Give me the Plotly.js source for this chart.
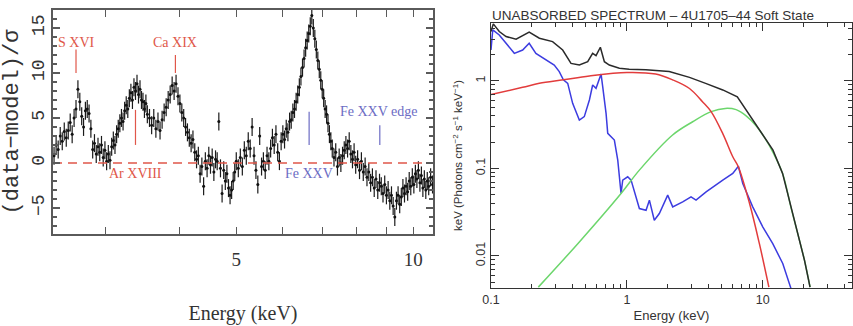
<!DOCTYPE html>
<html><head><meta charset="utf-8">
<script src="https://cdn.plot.ly/plotly-3.0.1.min.js"></script>
<style>html,body{margin:0;padding:0;background:#fff;} #chart{width:853px;height:326px;}</style>
</head><body><div id="chart"></div>
<script>
// ---------- LEFT PANEL: residuals (data-model)/sigma ----------
const resEnergy = [
 2.45,2.47,2.49,2.51,2.53,2.55,2.57,2.59,2.61,2.63,2.65,2.67,2.69,2.71,2.73,2.75,2.77,2.79,2.81,2.83,
 2.85,2.87,2.89,2.91,2.93,2.95,2.97,2.99,3.01,3.03,3.05,3.07,3.09,3.11,3.13,3.15,3.17,3.19,3.21,3.23,
 3.25,3.27,3.29,3.31,3.33,3.35,3.37,3.39,3.41,3.43,3.45,3.47,3.49,3.51,3.53,
 3.56,3.59,3.62,3.65,3.68,3.71,3.74,3.77,3.80,3.83,3.86,3.89,3.92,3.95,3.98,4.01,4.04,4.07,4.10,4.13,
 4.16,4.19,4.22,4.25,4.28,4.31,4.34,4.37,4.40,4.43,4.46,4.49,4.52,4.55,4.58,4.61,4.64,4.67,4.70,4.73,
 4.76,4.79,4.82,4.85,4.88,4.91,4.94,4.97,
 5.00,5.04,5.08,5.12,5.16,5.20,5.24,5.28,5.32,5.36,5.40,5.44,5.48,5.52,5.56,5.60,5.64,5.68,5.72,5.76,
 5.80,5.84,5.88,5.92,5.96,
 6.00,6.04,6.08,6.12,6.16,6.20,6.24,6.28,6.32,6.36,6.40,6.44,6.48,6.52,6.56,6.60,6.64,6.68,6.72,6.76,
 6.80,6.84,6.88,6.92,6.96,7.00,7.04,7.08,7.12,7.16,7.20,7.24,7.28,
 7.33,7.38,7.43,7.48,7.53,7.58,7.63,7.68,7.73,7.78,7.83,7.88,7.93,7.98,
 8.04,8.10,8.16,8.22,8.28,8.34,8.40,8.46,8.52,8.58,8.64,8.70,8.76,8.82,8.88,8.94,9.00,9.06,9.12,9.18,
 9.24,9.30,9.36,9.42,9.48,9.54,9.60,9.66,9.72,9.78,9.84,9.90,9.96,10.02,10.08,10.14,10.20,10.26,10.32,10.38,
 10.44,10.50,10.56,10.62,10.70,10.78
];
const resValue = [
 0.8,2.0,1.5,3.0,2.4,3.5,2.8,3.6,4.5,3.2,5.0,6.0,8.2,6.8,5.2,4.0,5.8,6.0,5.5,3.8,
 1.5,2.2,1.0,1.8,1.2,2.0,0.6,1.4,0.2,1.0,0.3,1.8,2.5,2.0,3.2,3.8,4.4,5.0,4.6,5.8,
 6.4,6.0,7.2,7.8,7.0,8.4,8.0,8.8,7.6,8.2,7.0,6.8,6.0,6.6,5.4,
 5.0,4.2,5.0,3.8,4.6,3.6,4.8,5.6,6.2,7.0,7.6,8.6,8.0,8.8,7.4,6.6,5.6,5.0,4.0,3.4,
 2.8,2.2,2.6,1.2,0.4,0.8,-1.2,-0.4,-2.6,0.2,-0.6,0.8,-0.2,0.6,-1.0,0.4,0.2,4.6,-0.6,-3.4,
 -0.8,-2.0,-1.2,-2.8,-3.6,-3.0,-2.0,-1.0,
 0.2,-0.6,0.6,-0.4,1.4,0.8,2.4,1.6,4.0,0.8,-0.8,-2.4,3.0,-0.4,0.2,-0.8,0.8,0.2,1.6,2.8,
 2.0,3.2,1.2,0.2,2.4,
 3.2,2.6,3.8,3.4,4.6,4.8,5.6,6.0,6.8,7.6,8.4,9.6,10.6,11.6,12.8,13.6,14.4,15.2,16.4,15.0,
 13.8,12.6,11.4,10.4,9.2,8.2,7.2,6.0,5.4,4.4,3.2,2.4,1.6,
 0.6,1.2,-0.4,0.6,0.0,0.8,1.4,2.0,1.6,2.4,1.0,0.4,1.2,-0.2,
 0.4,-0.8,0.2,-1.0,-0.4,-1.6,-1.0,-2.2,-1.6,-2.8,-1.8,-3.0,-2.2,-2.6,-3.4,-2.4,-3.6,-3.0,-4.2,-3.6,
 -4.8,-6.0,-4.2,-3.6,-4.6,-3.8,-2.8,-3.4,-2.6,-3.2,-2.0,-2.6,-1.6,-2.4,-1.2,-1.8,-0.8,-2.2,-1.4,-2.8,
 -1.8,-3.0,-2.0,-2.6,-1.6,-2.4
];
const resSigma = 1;

const lineNames   = ['S XVI', 'Ar XVIII', 'Ca XIX', 'Fe XXV', 'Fe XXV edge'];
const lineEnergy  = [2.67, 3.37, 3.94, 6.65, 8.77];
const lineTickLo  = [10.0, 2.0, 10.0, 2.0, 2.0];
const lineTickHi  = [12.6, 5.9, 12.0, 5.7, 4.2];
const labelEnergy = [2.67, 3.37, 3.94, 6.65, 8.74];
const labelY      = [13.4, -1.2, 13.4, -1.2, 5.7];
const lineColors  = ['#e0574a', '#e0574a', '#e0574a', '#6c6cc4', '#6c6cc4'];

const leftXLabelTicks = [5, 10];
const leftXOtherTicks = [3, 4, 6, 7, 8, 9];
const leftXRange      = [2.44, 10.8];
const leftYRange      = [-7.9, 17];

// ---------- RIGHT PANEL: unabsorbed spectrum ----------
const totalE = [0.100,0.104,0.115,0.129,0.153,0.191,0.227,0.284,0.337,0.388,0.447,0.515,0.560,0.593,0.638,0.683,0.743,0.881,1.04,1.38,2.05,2.89,3.80,5.08,6.50,7.55,8.90,11.9,14.0,16.2,18.1,20.3,22.3];
const totalF = [3.67,4.50,3.67,3.22,3.00,3.61,3.08,2.82,2.26,1.59,1.52,1.66,2.07,1.95,2.43,1.66,1.52,1.40,1.36,1.34,1.28,1.10,0.94,0.79,0.66,0.466,0.327,0.162,0.0877,0.0364,0.0180,0.0089,0.0044];

const diskE = [0.100,0.171,0.227,0.341,0.530,1.00,1.63,2.17,2.89,3.60,4.17,5.08,6.02,6.62,8.00,9.45,11.1];
const diskF = [0.70,0.846,0.94,1.03,1.14,1.25,1.20,1.03,0.82,0.58,0.446,0.25,0.136,0.104,0.0397,0.0138,0.0044];

const bbE = [0.223,0.447,0.906,1.236,2.16,3.05,4.17,5.30,6.37,7.55,8.90,10.6,11.85,14.0,16.2,18.1,20.3,22.3];
const bbF = [0.0044,0.01445,0.0517,0.0957,0.24,0.342,0.446,0.486,0.47,0.40,0.31,0.211,0.155,0.0877,0.035,0.018,0.0089,0.0044];

const reflE = [0.100,0.103,0.115,0.129,0.1485,0.171,0.191,0.214,0.254,0.292,0.318,0.341,0.367,0.399,0.447,0.486,0.530,0.560,0.593,0.628,0.646,0.664,0.703,0.723,0.764,0.809,0.857,0.906,0.932,1.014,1.074,1.167,1.236,1.384,1.465,1.592,1.734,1.998,2.175,2.576,2.966,3.23,3.83,5.08,6.02,6.62,7.13,8.44,10.0,11.85,14.04,16.17];
const reflF = [2.26,3.84,3.36,2.70,2.07,2.26,2.70,2.07,1.74,1.52,1.28,1.03,0.94,0.555,0.357,0.391,0.606,0.90,0.824,1.07,1.20,0.861,0.426,0.252,0.231,0.211,0.1245,0.0517,0.0735,0.0803,0.0735,0.0474,0.0348,0.0333,0.0434,0.0256,0.0305,0.0495,0.0364,0.0415,0.0474,0.0434,0.0540,0.0735,0.0877,0.106,0.0673,0.0364,0.0215,0.0138,0.0082,0.0042];

const rightXRange = [0.1, 45.4];
const rightYRange = [0.0043, 4.6];

// ---------- build ----------
const W = 853, H = 326;
const traces = [];

traces.push({
  type:'scatter', mode:'markers', x: resEnergy, y: resValue, xaxis:'x', yaxis:'y',
  marker:{color:'#111', size:3},
  error_y:{type:'constant', value: resSigma, color:'#1a1a1a', thickness:1.2, width:0},
  hoverinfo:'skip', showlegend:false
});
traces.push({
  type:'scatter', mode:'lines', x: leftXRange, y:[0,0], xaxis:'x', yaxis:'y',
  line:{color:'#e0574a', width:1.6, dash:'9px,6px'}, hoverinfo:'skip', showlegend:false
});
for (let i = 0; i < lineNames.length; i++) {
  traces.push({
    type:'scatter', mode:'lines', x:[lineEnergy[i], lineEnergy[i]], y:[lineTickLo[i], lineTickHi[i]],
    xaxis:'x', yaxis:'y', line:{color: lineColors[i], width:1.2}, hoverinfo:'skip', showlegend:false
  });
}

const spec = [
  {x: reflE, y: reflF, c:'#3c3ce0', shape:'linear'},
  {x: bbE, y: bbF, c:'#6cd66c', shape:'spline'},
  {x: diskE, y: diskF, c:'#e23c3c', shape:'spline'},
  {x: totalE, y: totalF, c:'#2a2a2a', shape:'linear'}
];
spec.forEach(s => traces.push({
  type:'scatter', mode:'lines', x: s.x, y: s.y, xaxis:'x2', yaxis:'y2',
  line:{color: s.c, width:1.5, shape: s.shape}, hoverinfo:'skip', showlegend:false
}));

const annotations = lineNames.map((n, i) => ({
  text: n, x: Math.log10(labelEnergy[i]), y: labelY[i], xref:'x', yref:'y',
  showarrow:false, font:{family:'Liberation Serif', size:14, color: lineColors[i]},
  xanchor:'center', yanchor:'middle'
}));

const leftFrame = {showline:true, linecolor:'#5a5a5a', linewidth:1.6, mirror:'allticks',
  ticks:'inside', tickcolor:'#5a5a5a', tickwidth:1.2, showgrid:false, zeroline:false};
const rightFrame = {showline:true, linecolor:'#333', linewidth:1.2, mirror:'allticks',
  ticks:'inside', tickcolor:'#333', tickwidth:1, showgrid:false, zeroline:false};

const layout = {
  width: W, height: H, margin:{l:0, r:0, t:0, b:0}, paper_bgcolor:'#fff', plot_bgcolor:'#fff',
  showlegend:false,
  title:{text:'UNABSORBED SPECTRUM \u2013 4U1705\u201344 Soft State', x: 492/W, xanchor:'left',
         y: 1 - 15/H, yanchor:'middle', xref:'paper', yref:'paper',
         font:{family:'Liberation Sans', size:13.5, color:'#333'}},
  xaxis: Object.assign({}, leftFrame, {
    type:'log', domain:[53/W, 433/W], anchor:'y',
    range:[Math.log10(leftXRange[0]), Math.log10(leftXRange[1])],
    tickmode:'array', tickvals: leftXLabelTicks, ticklen:7, ticklabelstandoff:8,
    minor:{tickmode:'array', tickvals: leftXOtherTicks, ticks:'inside', ticklen:7, tickwidth:1.2,
           tickcolor:'#5a5a5a', showgrid:false},
    tickfont:{family:'Liberation Serif', size:19, color:'#333'},
    title:{text:'Energy (keV)', font:{family:'Liberation Serif', size:20, color:'#333'}, standoff:36}
  }),
  yaxis: Object.assign({}, leftFrame, {
    domain:[1 - 234/H, 1 - 10/H], anchor:'x', range: leftYRange,
    tick0:0, dtick:5, ticklen:7, tickangle:-90,
    minor:{dtick:1, ticks:'inside', ticklen:4, tickcolor:'#5a5a5a', showgrid:false},
    tickfont:{family:'Liberation Mono', size:18, color:'#333'},
    title:{text:'(data\u2212model)/\u03c3', font:{family:'Liberation Mono', size:22, color:'#333'}, standoff:4}
  }),
  xaxis2: Object.assign({}, rightFrame, {
    type:'log', domain:[491/W, 852/W], anchor:'y2',
    range:[Math.log10(rightXRange[0]), Math.log10(rightXRange[1])],
    dtick:1, ticklen:8,
    minor:{ticks:'inside', ticklen:4, tickcolor:'#333', showgrid:false},
    tickfont:{family:'Liberation Sans', size:12.5, color:'#333'},
    title:{text:'Energy (keV)', font:{family:'Liberation Sans', size:13, color:'#333'}, standoff:4}
  }),
  yaxis2: Object.assign({}, rightFrame, {
    type:'log', domain:[1 - 288/H, 1 - 23/H], anchor:'x2',
    range:[Math.log10(rightYRange[0]), Math.log10(rightYRange[1])],
    dtick:1, ticklen:8, tickangle:-90,
    minor:{ticks:'inside', ticklen:4, tickcolor:'#333', showgrid:false},
    tickfont:{family:'Liberation Sans', size:12.5, color:'#333'},
    title:{text:'keV (Photons cm<sup>\u22122</sup> s<sup>\u22121</sup> keV<sup>\u22121</sup>)',
           font:{family:'Liberation Sans', size:11.5, color:'#333'}, standoff:8}
  }),
  annotations: annotations
};

Plotly.newPlot('chart', traces, layout, {staticPlot:true, displayModeBar:false});
</script>
</body></html>
